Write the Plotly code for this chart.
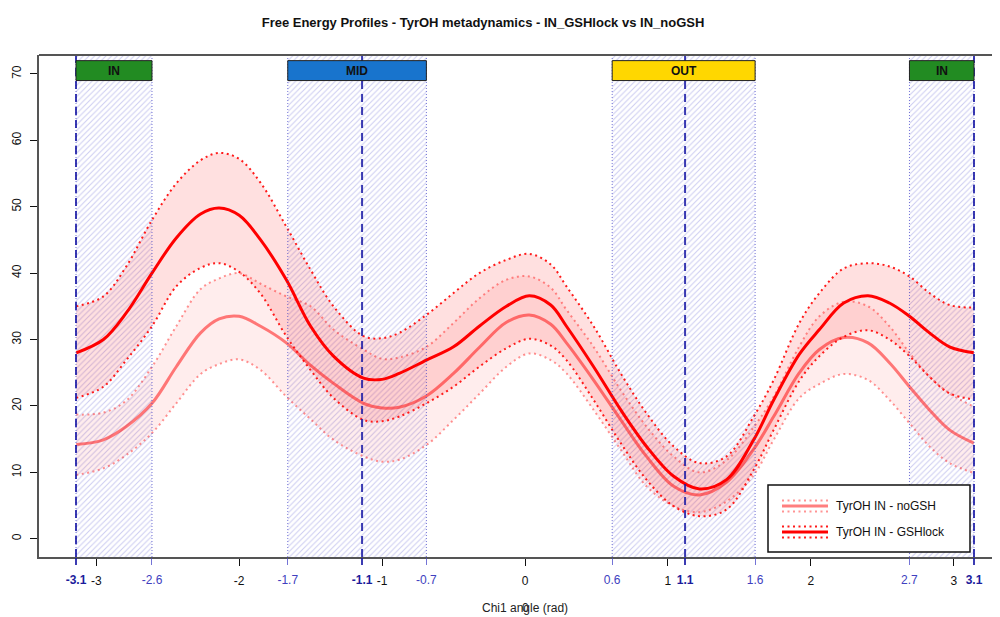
import plotly.graph_objects as go
import math

# ---------------- data ----------------
chi = [-3.14, -2.95, -2.79, -2.61, -2.44, -2.27, -2.14, -2.00, -1.85, -1.67,
       -1.50, -1.34, -1.13, -1.00, -0.88, -0.69, -0.50, -0.32, -0.13, 0.03,
       0.18, 0.29, 0.48, 0.67, 0.85, 1.04, 1.22, 1.41, 1.60, 1.74,
       1.92, 2.06, 2.23, 2.40, 2.55, 2.69, 2.83, 2.97, 3.14]

gsh_mean = [28.0, 30.0, 34.0, 40.0, 45.3, 48.9, 49.8, 48.7, 45.0, 39.0,
            32.0, 27.5, 24.2, 24.0, 24.9, 26.9, 28.9, 32.0, 35.0, 36.6,
            35.2, 32.0, 25.9, 19.4, 13.9, 9.4, 7.5, 8.9, 14.9, 20.9,
            27.8, 31.5, 35.5, 36.6, 35.5, 33.5, 31.0, 28.9, 28.0]
gsh_upper = [35.0, 36.5, 41.0, 48.0, 53.5, 57.0, 58.1, 57.2, 53.6, 47.0,
             40.5, 35.0, 30.5, 30.2, 31.0, 33.7, 37.0, 40.0, 42.0, 42.9,
             41.3, 38.0, 32.0, 24.9, 18.9, 13.9, 11.4, 12.4, 18.4, 23.9,
             32.5, 37.0, 40.7, 41.5, 41.0, 39.5, 37.0, 35.2, 34.8]
gsh_lower = [21.2, 22.9, 26.9, 32.0, 38.0, 40.8, 41.5, 40.2, 36.9, 30.5,
             25.4, 21.2, 17.9, 17.7, 18.4, 20.4, 22.9, 25.9, 28.7, 30.1,
             29.1, 26.9, 20.9, 14.4, 8.9, 4.9, 3.4, 4.4, 10.4, 16.4,
             23.8, 27.5, 30.4, 31.4, 30.0, 27.5, 24.4, 21.9, 21.0]

nog_mean = [14.2, 14.9, 16.9, 20.4, 25.9, 31.0, 33.1, 33.5, 32.0, 29.5,
            26.1, 23.4, 20.4, 19.7, 19.8, 21.5, 24.9, 28.8, 32.6, 33.7,
            32.3, 29.5, 23.9, 17.9, 12.4, 7.9, 6.6, 8.5, 13.5, 18.4,
            25.0, 28.5, 30.3, 29.5, 26.5, 22.9, 19.4, 16.4, 14.4]
nog_upper = [18.7, 19.0, 20.8, 25.9, 32.0, 37.6, 39.2, 40.0, 38.4, 36.5,
             35.0, 31.5, 28.5, 27.1, 27.3, 28.9, 32.5, 36.2, 39.0, 39.5,
             37.8, 34.5, 28.9, 22.4, 16.9, 12.4, 10.0, 11.8, 16.8, 21.4,
             29.0, 33.5, 35.7, 35.0, 32.0, 28.0, 24.4, 21.9, 19.9]
nog_lower = [9.6, 10.6, 12.6, 15.9, 20.4, 24.8, 26.3, 27.0, 25.4, 21.4,
             18.0, 14.9, 12.4, 11.6, 11.9, 14.1, 17.9, 21.8, 25.9, 27.9,
             26.9, 24.9, 19.4, 13.4, 7.9, 4.9, 4.0, 5.6, 9.6, 14.9,
             21.2, 23.3, 24.8, 23.9, 20.9, 17.4, 13.9, 11.4, 9.9]

region_names = ["IN", "MID", "OUT", "IN"]
region_start = [-math.pi, -1.66, 0.61, 2.69]
region_end = [-2.61, -0.69, 1.61, math.pi]
region_center = [-math.pi, -1.14, 1.12, math.pi]
region_colors = ["#228B22", "#1874CD", "#FFD700", "#228B22"]

int_ticks = [-3, -2, -1, 0, 1, 2, 3]
bound_ticks = [-2.61, -1.66, -0.69, 0.61, 1.61, 2.69]
center_ticks = [-math.pi, -1.14, 1.12, math.pi]
y_ticks = [0, 10, 20, 30, 40, 50, 60, 70]

series_names = ["TyrOH IN - noGSH", "TyrOH IN - GSHlock"]

# ---------------- styling ----------------
FONT = "Liberation Sans, Arial, Helvetica, sans-serif"
XR = [-3.4005, 3.3235]
YR = [-2.75, 72.85]
OFF = 8                       # page body margin in the browser
W, H = 1000 - OFF, 617 - OFF  # figure size
L, T = 39 - OFF, 55 - OFF     # plot-area left/top (figure px)
B = H - (557 - OFF)           # bottom margin
PLOT_W = W - L
PLOT_H = H - T - B

GSH_LINE = "#FF0000"
GSH_DOT = "#FF1A1A"
GSH_FILL = "rgba(255,0,0,0.12)"
NOG_LINE = "rgba(255,0,0,0.5)"
NOG_DOT = "rgba(255,0,0,0.42)"
NOG_FILL = "rgba(255,0,0,0.07)"
HATCH = "rgba(110,110,215,0.36)"
BOUND_COL = "rgba(70,70,200,0.75)"
CENTER_COL = "rgba(25,25,165,0.85)"
DOTDASH = "2px,3.5px"
SMOOTH = 1.0


def pxx(px):
    """page pixel x -> paper x"""
    return (px - OFF - L) / PLOT_W


def pxy(py):
    """page pixel y -> paper y"""
    return (H - B - (py - OFF)) / PLOT_H


fig = go.Figure()

# hatched regions
for s, e in zip(region_start, region_end):
    fig.add_trace(go.Scatter(
        x=[s, e, e, s, s], y=[YR[0], YR[0], YR[1], YR[1], YR[0]],
        mode="lines", line=dict(width=0), fill="toself",
        fillcolor="rgba(0,0,0,0)",
        fillpattern=dict(shape="/", fgcolor=HATCH, bgcolor="rgba(0,0,0,0)",
                         size=4, solidity=0.25),
        hoverinfo="skip", showlegend=False))

# bands
for lower, upper, dc, fc in [
        (nog_lower, nog_upper, NOG_DOT, NOG_FILL),
        (gsh_lower, gsh_upper, GSH_DOT, GSH_FILL)]:
    fig.add_trace(go.Scatter(x=chi, y=lower, mode="lines",
                             line=dict(color=dc, width=2, dash=DOTDASH,
                                       shape="spline", smoothing=SMOOTH),
                             hoverinfo="skip", showlegend=False))
    fig.add_trace(go.Scatter(x=chi, y=upper, mode="lines",
                             line=dict(color=dc, width=2, dash=DOTDASH,
                                       shape="spline", smoothing=SMOOTH),
                             fill="tonexty", fillcolor=fc,
                             hoverinfo="skip", showlegend=False))
# mean lines
for mean, lc in [(nog_mean, NOG_LINE), (gsh_mean, GSH_LINE)]:
    fig.add_trace(go.Scatter(x=chi, y=mean, mode="lines",
                             line=dict(color=lc, width=3, shape="spline",
                                       smoothing=SMOOTH),
                             hoverinfo="skip", showlegend=False))

# invisible traces for overlaying tick axes
for ax in ["x2", "x3"]:
    fig.add_trace(go.Scatter(x=[0], y=[0], xaxis=ax, mode="markers",
                             marker=dict(opacity=0), hoverinfo="skip",
                             showlegend=False))

shapes = []
annotations = []

# region boundaries (dotted) and centres (dashed)
for s, e in zip(region_start, region_end):
    for v in (s, e):
        shapes.append(dict(type="line", xref="x", yref="paper", x0=v, x1=v,
                           y0=0, y1=1, line=dict(color=BOUND_COL, width=1,
                                                 dash="1px,2px"), layer="above"))
for c in region_center:
    shapes.append(dict(type="line", xref="x", yref="paper", x0=c, x1=c,
                       y0=0, y1=1, line=dict(color=CENTER_COL, width=2,
                                             dash="8px,5px"), layer="above"))

# region label boxes
for n, s, e, col in zip(region_names, region_start, region_end, region_colors):
    shapes.append(dict(type="rect", xref="x", yref="y", x0=s, x1=e,
                       y0=69.0, y1=72.0, fillcolor=col,
                       line=dict(color="#222222", width=1), layer="above"))
    annotations.append(dict(x=(s + e) / 2, y=70.5, xref="x", yref="y",
                            text="<b>%s</b>" % n, showarrow=False,
                            font=dict(family=FONT, size=12, color="#111111"),
                            xanchor="center", yanchor="middle"))

# plot box top border
shapes.append(dict(type="line", xref="paper", yref="paper", x0=0, x1=1.02,
                   y0=1, y1=1, line=dict(color="#555555", width=2), layer="above"))

# legend (drawn)
shapes.append(dict(type="rect", xref="paper", yref="paper",
                   x0=pxx(768), x1=pxx(970), y0=pxy(552), y1=pxy(485),
                   fillcolor="white", line=dict(color="#111111", width=1.5),
                   layer="above"))
for (yc, lc, dc, name) in [(506, NOG_LINE, NOG_DOT, series_names[0]),
                           (532, GSH_LINE, GSH_DOT, series_names[1])]:
    shapes.append(dict(type="line", xref="paper", yref="paper",
                       x0=pxx(782), x1=pxx(828), y0=pxy(yc), y1=pxy(yc),
                       line=dict(color=lc, width=3), layer="above"))
    for dy in (-5.5, 5.5):
        shapes.append(dict(type="line", xref="paper", yref="paper",
                           x0=pxx(782), x1=pxx(828), y0=pxy(yc + dy), y1=pxy(yc + dy),
                           line=dict(color=dc, width=2, dash=DOTDASH), layer="above"))
    annotations.append(dict(x=pxx(834), y=pxy(yc), xref="paper", yref="paper",
                            text=name, showarrow=False, xanchor="left",
                            yanchor="middle",
                            font=dict(family=FONT, size=12, color="#111111")))

# x-axis label (with the overlapping "0")
annotations.append(dict(x=pxx(525), y=pxy(608), xref="paper", yref="paper",
                        text="Chi1 angle (rad)", showarrow=False,
                        font=dict(family=FONT, size=12, color="#222222"),
                        xanchor="center", yanchor="middle"))
annotations.append(dict(x=0, y=pxy(608), xref="x", yref="paper",
                        text="0", showarrow=False,
                        font=dict(family=FONT, size=12, color="#222222"),
                        xanchor="center", yanchor="middle"))

common_x = dict(range=XR, showgrid=False, zeroline=False, ticks="outside",
                ticklen=7, fixedrange=True, automargin=False,
                ticklabelstandoff=5)

fig.update_layout(
    template="none",
    width=W, height=H, autosize=False,
    margin=dict(l=L, r=0, t=T, b=B, pad=0),
    plot_bgcolor="white", paper_bgcolor="white",
    font=dict(family=FONT, size=12, color="#111111"),
    title=dict(text="<b>Free Energy Profiles - TyrOH metadynamics - IN_GSHlock vs IN_noGSH</b>",
               x=(483 - OFF) / W, xanchor="center", xref="container",
               y=1 - (22 - OFF) / H, yanchor="middle", yref="container",
               font=dict(family=FONT, size=13, color="#111111")),
    xaxis=dict(**common_x, tickvals=int_ticks,
               ticktext=[str(v) for v in int_ticks],
               tickcolor="#111111", tickwidth=1,
               tickfont=dict(family=FONT, size=12, color="#111111"),
               showline=True, linecolor="#555555", linewidth=2),
    xaxis2=dict(**common_x, overlaying="x", anchor="y", side="bottom",
                tickvals=bound_ticks,
                ticktext=["%.1f" % v for v in bound_ticks],
                tickcolor=BOUND_COL, tickwidth=1,
                tickfont=dict(family=FONT, size=12, color="#4040C0"),
                showline=False),
    xaxis3=dict(**common_x, overlaying="x", anchor="y", side="bottom",
                tickvals=center_ticks,
                ticktext=["<b>%.1f</b>" % v for v in center_ticks],
                tickcolor=CENTER_COL, tickwidth=2,
                tickfont=dict(family=FONT, size=12, color="#1C1C9C"),
                showline=False),
    yaxis=dict(range=YR, showgrid=False, zeroline=False, ticks="outside",
               ticklen=7, tickvals=y_ticks, tickangle=-90,
               tickcolor="#111111", automargin=False, ticklabelstandoff=4,
               tickfont=dict(family=FONT, size=12, color="#111111"),
               showline=True, linecolor="#555555", linewidth=2,
               fixedrange=True),
    shapes=shapes, annotations=annotations, showlegend=False,
)

fig.write_html("out.html")
